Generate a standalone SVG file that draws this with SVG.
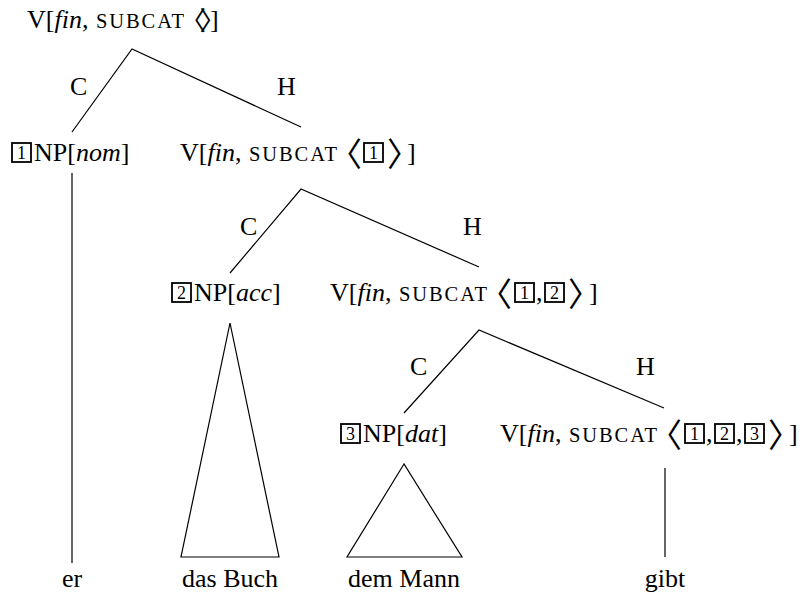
<svg xmlns="http://www.w3.org/2000/svg" width="802" height="595" viewBox="0 0 802 595">
<style>
  text { font-family: "Liberation Serif", "Times New Roman", serif; font-size: 26px; fill: #000; }
  .it { font-style: italic; }
  .sc { font-size: 20.5px; letter-spacing: 1.9px; }
  .br { font-family: "Noto Sans CJK JP", "Noto Sans CJK SC", sans-serif; font-size: 26px; font-feature-settings: "halt" 1; letter-spacing: -6.5px; }
  .bb { font-family: "Noto Sans CJK JP", "Noto Sans CJK SC", sans-serif; font-size: 33px; font-feature-settings: "halt" 1; }
  .box { fill: none; stroke: #000; stroke-width: 1.8; }
  .num { font-size: 18px; }
  .mid { text-anchor: middle; }
  .edge { fill: none; stroke: #000; stroke-width: 1.2; }
</style>
<rect width="802" height="595" fill="#fff"/>

<g id="connectors">
  <polyline class="edge" points="72,132 132,49 301,127"/>
  <polyline class="edge" points="230,273 301,189 479,267"/>
  <polyline class="edge" points="404,413 479,330 664,408"/>
  <line class="edge" x1="72" y1="173" x2="72" y2="563"/>
  <polygon class="edge" points="230,323 181,557 279,557"/>
  <polygon class="edge" points="404,464 347,557 462,557"/>
  <line class="edge" x1="665" y1="468" x2="665" y2="557"/>
  <text x="70" y="95">C</text>
  <text x="277" y="95">H</text>
  <text x="240" y="235">C</text>
  <text x="463" y="235">H</text>
  <text x="410" y="375">C</text>
  <text x="636" y="375">H</text>
</g>

<g id="node-root">
  <text x="27" y="28">V[<tspan class="it">fin</tspan>,<tspan class="sc" x="96">SUBCAT</tspan><tspan class="br" x="193" y="30">〈〉</tspan><tspan x="210" y="28">]</tspan></text>
</g>

<g id="node-np-nom">
  <rect class="box" x="12" y="143" width="19" height="19"/>
  <text x="17" y="159"><tspan class="num">1</tspan><tspan x="34" y="161">NP[</tspan><tspan class="it">nom</tspan>]</text>
</g>

<g id="node-v1">
  <rect class="box" x="364" y="143" width="19" height="19"/>
  <text x="180" y="161">V[<tspan class="it">fin</tspan>,<tspan class="sc" x="249">SUBCAT</tspan><tspan class="bb" x="345.5" y="166">〈</tspan><tspan class="num" x="369" y="159">1</tspan><tspan class="bb" x="387" y="166">〉</tspan><tspan x="407" y="161">]</tspan></text>
</g>

<g id="node-np-acc">
  <rect class="box" x="172" y="283" width="19" height="19"/>
  <text x="177" y="299"><tspan class="num">2</tspan><tspan x="194" y="301">NP[</tspan><tspan class="it">acc</tspan>]</text>
</g>

<g id="node-v2">
  <rect class="box" x="515" y="283" width="19" height="19"/>
  <rect class="box" x="545" y="283" width="19" height="19"/>
  <text x="330" y="301">V[<tspan class="it">fin</tspan>,<tspan class="sc" x="399">SUBCAT</tspan><tspan class="bb" x="495.5" y="306">〈</tspan><tspan class="num" x="520" y="299">1</tspan><tspan x="536" y="301">,</tspan><tspan class="num" x="550" y="299">2</tspan><tspan class="bb" x="568" y="306">〉</tspan><tspan x="589" y="301">]</tspan></text>
</g>

<g id="node-np-dat">
  <rect class="box" x="341" y="424" width="19" height="19"/>
  <text x="346" y="440"><tspan class="num">3</tspan><tspan x="363" y="442">NP[</tspan><tspan class="it">dat</tspan>]</text>
</g>

<g id="node-v3">
  <rect class="box" x="685" y="424" width="19" height="19"/>
  <rect class="box" x="715" y="424" width="19" height="19"/>
  <rect class="box" x="745" y="424" width="19" height="19"/>
  <text x="500" y="442">V[<tspan class="it">fin</tspan>,<tspan class="sc" x="569">SUBCAT</tspan><tspan class="bb" x="665.5" y="447">〈</tspan><tspan class="num" x="690" y="440">1</tspan><tspan x="706" y="442">,</tspan><tspan class="num" x="720" y="440">2</tspan><tspan x="736" y="442">,</tspan><tspan class="num" x="750" y="440">3</tspan><tspan class="bb" x="768" y="447">〉</tspan><tspan x="789" y="442">]</tspan></text>
</g>

<g id="leaf-er"><text class="mid" x="72" y="587">er</text></g>
<g id="leaf-das-buch"><text class="mid" x="230" y="587">das Buch</text></g>
<g id="leaf-dem-mann"><text class="mid" x="404" y="587">dem Mann</text></g>
<g id="leaf-gibt"><text class="mid" x="665" y="587">gibt</text></g>
</svg>
